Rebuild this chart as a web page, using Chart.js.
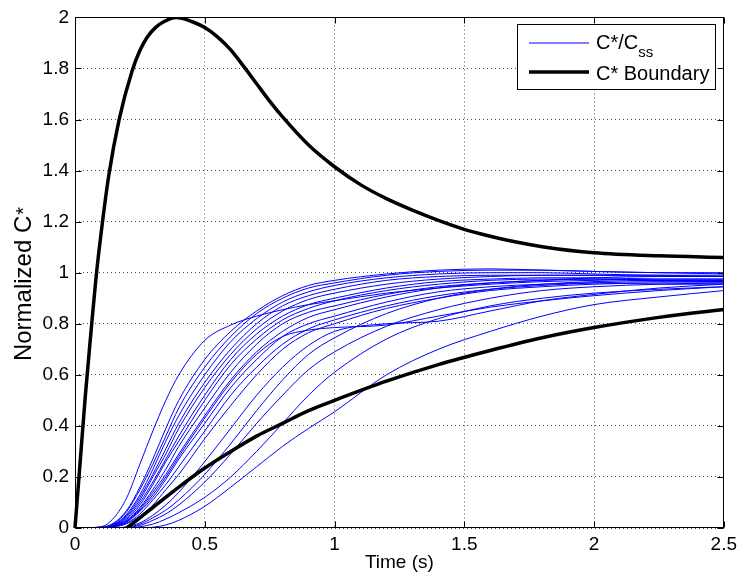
<!DOCTYPE html>
<html>
<head>
<meta charset="utf-8">
<title>Normalized C*</title>
<script src="https://cdn.jsdelivr.net/npm/chart.js@4.4.0/dist/chart.umd.min.js"></script>
<style>
    body { margin: 0; background: #fff; overflow: hidden; }
    canvas { display: block; }
</style>
</head>
<body>
<canvas id="cstarChart" width="742" height="581"></canvas>
<script>
// Tick labels
var xTicks = [0, 0.5, 1, 1.5, 2, 2.5];
var yTicks = [0, 0.2, 0.4, 0.6, 0.8, 1, 1.2, 1.4, 1.6, 1.8, 2];

// Sample times for the C*/Css curves (s)
var timeGrid = [0, 0.1, 0.15, 0.2, 0.25, 0.3, 0.35, 0.4, 0.5, 0.6, 0.7, 0.8, 0.9, 1.0, 1.2, 1.4, 1.6, 1.8, 2.0, 2.25, 2.5];

// C*/Css curves
var curveA   = [0, 0.005, 0.04, 0.12, 0.25, 0.38, 0.5, 0.6, 0.735, 0.795, 0.83, 0.855, 0.875, 0.89, 0.92, 0.94, 0.955, 0.965, 0.97, 0.975, 0.975];
var curveM1  = [0, 0.003, 0.02, 0.07, 0.16, 0.27, 0.39, 0.5, 0.66, 0.77, 0.85, 0.91, 0.95, 0.97, 0.995, 1.01, 1.015, 1.01, 1.005, 1.0, 0.995];
var curveM2  = [0, 0.003, 0.018, 0.065, 0.15, 0.25, 0.36, 0.47, 0.63, 0.75, 0.84, 0.9, 0.94, 0.96, 0.99, 1.005, 1.01, 1.01, 1.005, 1.0, 1.0];
var curveM3  = [0, 0.002, 0.015, 0.055, 0.13, 0.23, 0.34, 0.44, 0.6, 0.73, 0.82, 0.885, 0.925, 0.95, 0.98, 0.995, 1.0, 1.0, 0.995, 0.99, 0.99];
var curveM4  = [0, 0.002, 0.013, 0.05, 0.12, 0.21, 0.31, 0.41, 0.57, 0.7, 0.8, 0.87, 0.91, 0.935, 0.97, 0.985, 0.99, 0.99, 0.99, 0.985, 0.985];
var curveM5  = [0, 0.002, 0.012, 0.045, 0.11, 0.2, 0.29, 0.39, 0.55, 0.68, 0.78, 0.85, 0.895, 0.92, 0.955, 0.975, 0.985, 0.99, 0.99, 0.99, 0.985];
var curveM6  = [0, 0.002, 0.01, 0.04, 0.1, 0.18, 0.27, 0.36, 0.52, 0.66, 0.76, 0.83, 0.875, 0.9, 0.94, 0.965, 0.975, 0.98, 0.98, 0.975, 0.975];
var curveM7  = [0, 0.001, 0.009, 0.035, 0.09, 0.17, 0.26, 0.34, 0.5, 0.64, 0.74, 0.815, 0.86, 0.89, 0.93, 0.955, 0.97, 0.975, 0.975, 0.97, 0.97];
var curveM8  = [0, 0.001, 0.008, 0.03, 0.08, 0.15, 0.23, 0.32, 0.47, 0.61, 0.72, 0.8, 0.845, 0.87, 0.915, 0.945, 0.96, 0.97, 0.975, 0.97, 0.965];
var curveM9  = [0, 0.001, 0.007, 0.028, 0.075, 0.14, 0.21, 0.29, 0.44, 0.58, 0.69, 0.77, 0.825, 0.855, 0.905, 0.94, 0.96, 0.97, 0.98, 0.985, 0.985];
var curveM10 = [0, 0.001, 0.006, 0.025, 0.065, 0.12, 0.19, 0.27, 0.41, 0.55, 0.66, 0.75, 0.8, 0.83, 0.885, 0.925, 0.945, 0.955, 0.96, 0.955, 0.955];
var curveM11 = [0, 0.001, 0.005, 0.02, 0.055, 0.11, 0.17, 0.24, 0.38, 0.52, 0.63, 0.72, 0.78, 0.815, 0.87, 0.91, 0.935, 0.95, 0.96, 0.965, 0.965];
var curveM12 = [0, 0.001, 0.004, 0.017, 0.047, 0.09, 0.15, 0.21, 0.35, 0.48, 0.6, 0.7, 0.765, 0.8, 0.86, 0.9, 0.93, 0.945, 0.955, 0.96, 0.96];
var curveM13 = [0, 0.001, 0.006, 0.025, 0.07, 0.13, 0.2, 0.28, 0.43, 0.57, 0.68, 0.75, 0.775, 0.785, 0.795, 0.83, 0.865, 0.89, 0.91, 0.93, 0.945];
var curveL5  = [0, 0, 0, 0.005, 0.02, 0.05, 0.09, 0.14, 0.26, 0.39, 0.52, 0.63, 0.715, 0.77, 0.8, 0.81, 0.85, 0.89, 0.915, 0.94, 0.955];
var curveL4  = [0, 0, 0, 0.003, 0.015, 0.04, 0.07, 0.11, 0.21, 0.33, 0.46, 0.58, 0.68, 0.745, 0.84, 0.9, 0.935, 0.955, 0.965, 0.97, 0.97];
var curveL3  = [0, 0, 0, 0.002, 0.01, 0.03, 0.055, 0.09, 0.18, 0.29, 0.41, 0.52, 0.62, 0.69, 0.79, 0.855, 0.9, 0.93, 0.945, 0.955, 0.96];
var curveL2  = [0, 0, 0, 0, 0.005, 0.015, 0.035, 0.06, 0.12, 0.2, 0.3, 0.41, 0.52, 0.61, 0.74, 0.82, 0.87, 0.9, 0.92, 0.935, 0.945];
var curveL1  = [0, 0, 0, 0, 0, 0.003, 0.012, 0.03, 0.085, 0.16, 0.24, 0.32, 0.39, 0.455, 0.6, 0.7, 0.77, 0.83, 0.875, 0.905, 0.93];

// C* boundary, upper branch
var upperTime = [0, 0.02, 0.04, 0.06, 0.08, 0.1, 0.13, 0.17, 0.22, 0.25, 0.28, 0.31, 0.34, 0.39, 0.45, 0.5, 0.55, 0.6, 0.65, 0.7, 0.75, 0.8, 0.9, 1.0, 1.1, 1.2, 1.3, 1.4, 1.5, 1.6, 1.7, 1.8, 2.0, 2.25, 2.5];
var upperVal  = [0, 0.26, 0.52, 0.75, 0.97, 1.15, 1.38, 1.6, 1.79, 1.87, 1.925, 1.96, 1.982, 2.0, 1.984, 1.96, 1.923, 1.873, 1.808, 1.74, 1.672, 1.61, 1.5, 1.415, 1.345, 1.29, 1.245, 1.205, 1.17, 1.143, 1.12, 1.102, 1.078, 1.066, 1.06];

// C* boundary, lower branch
var lowerTime = [0.2, 0.25, 0.3, 0.4, 0.5, 0.6, 0.7, 0.8, 0.9, 1.0, 1.2, 1.4, 1.6, 1.8, 2.0, 2.25, 2.5];
var lowerVal  = [0, 0.04, 0.08, 0.16, 0.235, 0.3, 0.36, 0.41, 0.46, 0.5, 0.575, 0.64, 0.695, 0.745, 0.785, 0.825, 0.856];

var blueCurves = [curveA, curveM1, curveM2, curveM3, curveM4, curveM5, curveM6, curveM7, curveM8, curveM9,
                  curveM10, curveM11, curveM12, curveM13, curveL5, curveL4, curveL3, curveL2, curveL1];

var FONT = '"Liberation Sans", Arial, Helvetica, sans-serif';
Chart.defaults.font.family = FONT;
Chart.defaults.color = '#000';

// turn two arrays into {x, y} points
function toPoints(times, values) {
    var pts = [];
    for (var i = 0; i < times.length; i++) {
        pts.push({ x: times[i], y: values[i] });
    }
    return pts;
}

var datasets = [];
// boundary lines (drawn on top)
datasets.push({
    label: 'C* Boundary',
    data: toPoints(upperTime, upperVal),
    borderColor: '#000',
    borderWidth: 3.5,
    order: 0,
    clip: { left: 3, top: 0, right: 3, bottom: 3 }
});
datasets.push({
    label: 'C* Boundary lower',
    data: toPoints(lowerTime, lowerVal),
    borderColor: '#000',
    borderWidth: 3.5,
    order: 0
});
// the C*/Css curves
for (var c = 0; c < blueCurves.length; c++) {
    datasets.push({
        label: 'C*/Css ' + (c + 1),
        data: toPoints(timeGrid, blueCurves[c]),
        borderColor: '#0000ff',
        borderWidth: 1,
        order: 1
    });
}

// Matlab style frame, inward ticks, y label and legend
var framePlugin = {
    id: 'framePlugin',
    afterDraw: function(chart) {
        var ctx = chart.ctx;
        var a = chart.chartArea;
        var xs = chart.scales.x;
        var ys = chart.scales.y;
        var L = Math.round(a.left) + 0.5, R = Math.round(a.right) - 0.5;
        var T = Math.round(a.top) + 0.5, B = Math.round(a.bottom) - 0.5;
        var i, p;

        ctx.save();
        ctx.strokeStyle = '#000';
        ctx.lineWidth = 1;
        ctx.strokeRect(L, T, R - L, B - T);

        // tick marks pointing inwards
        ctx.beginPath();
        for (i = 0; i < xTicks.length; i++) {
            p = Math.round(xs.getPixelForValue(xTicks[i])) + 0.5;
            ctx.moveTo(p, B); ctx.lineTo(p, B - 6);
            ctx.moveTo(p, T); ctx.lineTo(p, T + 6);
        }
        for (i = 0; i < yTicks.length; i++) {
            p = Math.round(ys.getPixelForValue(yTicks[i])) + 0.5;
            ctx.moveTo(L, p); ctx.lineTo(L + 6, p);
            ctx.moveTo(R, p); ctx.lineTo(R - 6, p);
        }
        ctx.stroke();

        // y axis label with superscript star
        ctx.save();
        ctx.translate(31, 284.5);
        ctx.rotate(-Math.PI / 2);
        ctx.fillStyle = '#000';
        ctx.textBaseline = 'alphabetic';
        ctx.textAlign = 'left';
        ctx.font = '24px ' + FONT;
        var mainText = 'Normalized C';
        var w1 = ctx.measureText(mainText).width;
        ctx.font = '20px ' + FONT;
        var w2 = ctx.measureText('*').width;
        var start = -(w1 + w2) / 2;
        ctx.font = '24px ' + FONT;
        ctx.fillText(mainText, start, 0);
        ctx.font = '20px ' + FONT;
        ctx.fillText('*', start + w1 + 1, -1);
        ctx.restore();

        // legend box
        ctx.fillStyle = '#fff';
        ctx.fillRect(517.5, 24.5, 198, 65);
        ctx.strokeStyle = '#000';
        ctx.lineWidth = 1;
        ctx.strokeRect(517.5, 24.5, 198, 65);

        ctx.beginPath();
        ctx.strokeStyle = '#0000ff';
        ctx.lineWidth = 1;
        ctx.moveTo(529, 43); ctx.lineTo(589, 43);
        ctx.stroke();

        ctx.beginPath();
        ctx.strokeStyle = '#000';
        ctx.lineWidth = 3.5;
        ctx.moveTo(529, 72); ctx.lineTo(589, 72);
        ctx.stroke();

        ctx.fillStyle = '#000';
        ctx.textAlign = 'left';
        ctx.textBaseline = 'alphabetic';
        ctx.font = '20px ' + FONT;
        ctx.fillText('C*/C', 596, 49);
        var wc = ctx.measureText('C*/C').width;
        ctx.font = '15px ' + FONT;
        ctx.fillText('ss', 596 + wc, 57);
        ctx.font = '20px ' + FONT;
        ctx.fillText('C* Boundary', 596, 80);

        ctx.restore();
    }
};

// plain tick text, "1" rather than "1.0"
function plainLabel(value) {
    return String(value);
}

// Get the canvas element
var ctx = document.getElementById('cstarChart').getContext('2d');

// Create the line chart
var cstarChart = new Chart(ctx, {
    type: 'line',
    data: { datasets: datasets },
    options: {
        responsive: false,
        animation: false,
        devicePixelRatio: 1,
        events: [],
        layout: { padding: { left: 0, top: 15, right: 17, bottom: 0 } },
        elements: {
            point: { radius: 0 },
            line: { cubicInterpolationMode: 'monotone', fill: false }
        },
        plugins: {
            legend: { display: false },
            tooltip: { enabled: false }
        },
        scales: {
            x: {
                type: 'linear',
                min: 0,
                max: 2.5,
                afterBuildTicks: function(scale) {
                    scale.ticks = xTicks.map(function(v) { return { value: v }; });
                },
                afterFit: function(scale) { scale.height = 53; },
                ticks: {
                    font: { size: 19 },
                    color: '#000',
                    padding: 5,
                    maxRotation: 0,
                    autoSkip: false,
                    callback: plainLabel
                },
                grid: { color: 'rgba(0,0,0,0.7)', lineWidth: 1, drawTicks: false },
                border: { display: false, dash: [1, 3] },
                title: {
                    display: true,
                    text: 'Time (s)',
                    font: { size: 19 },
                    color: '#000',
                    padding: { top: 0, bottom: 7 }
                }
            },
            y: {
                type: 'linear',
                min: 0,
                max: 2,
                afterBuildTicks: function(scale) {
                    scale.ticks = yTicks.map(function(v) { return { value: v }; });
                },
                afterFit: function(scale) { scale.width = 75; },
                ticks: {
                    font: { size: 19 },
                    color: '#000',
                    padding: 6,
                    autoSkip: false,
                    callback: plainLabel
                },
                grid: { color: 'rgba(0,0,0,0.7)', lineWidth: 1, drawTicks: false },
                border: { display: false, dash: [1, 3] }
            }
        }
    },
    plugins: [framePlugin]
});
</script>
</body>
</html>
